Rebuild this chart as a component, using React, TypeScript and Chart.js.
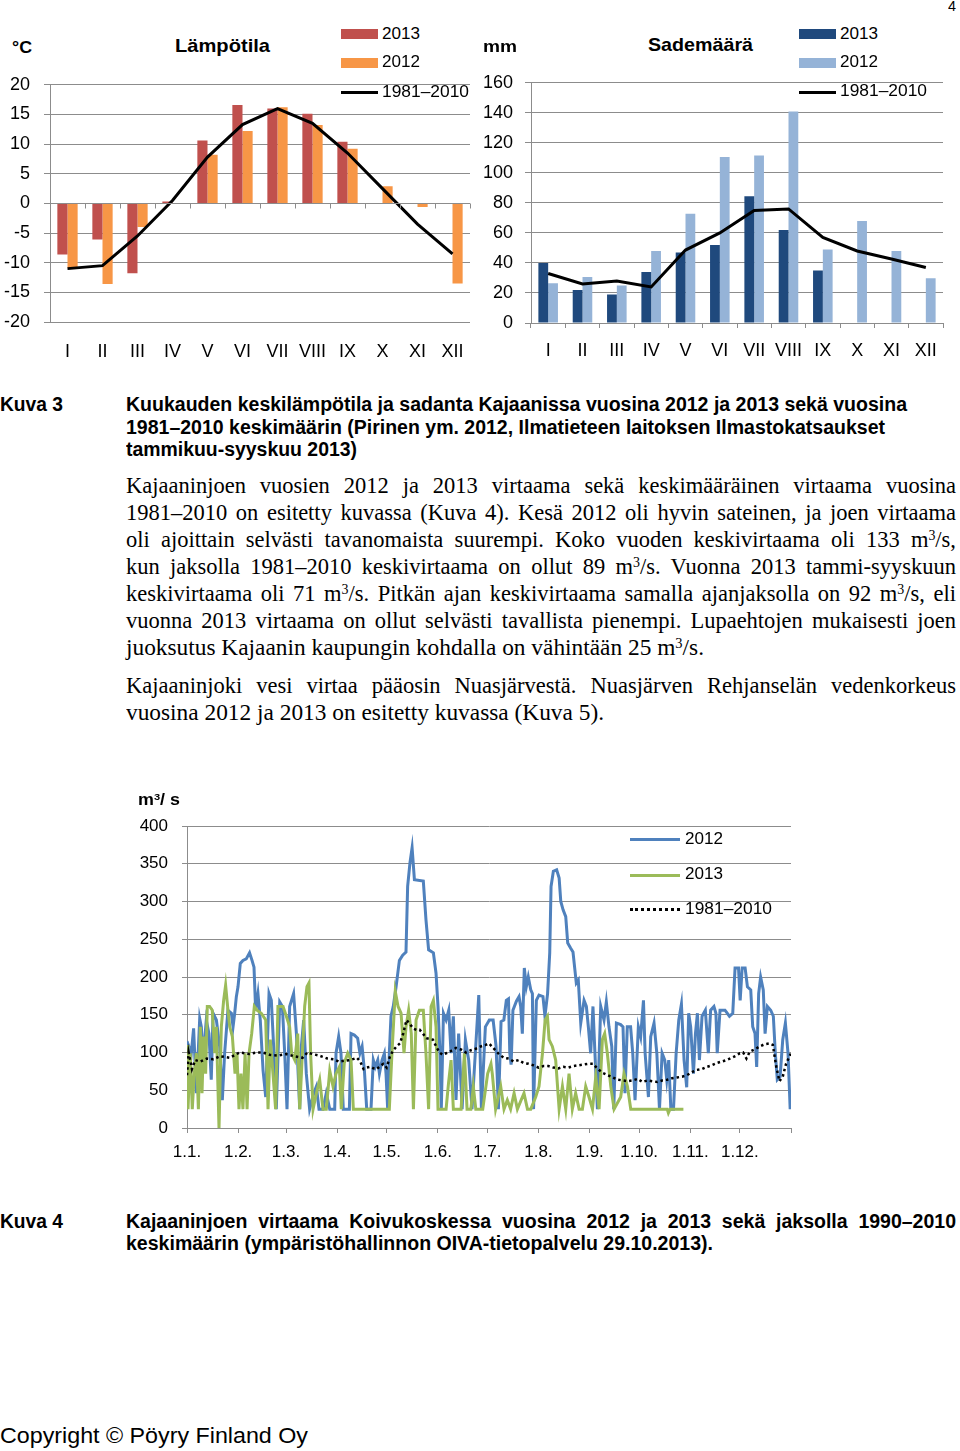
import React, { useEffect, useLayoutEffect, useRef } from 'react';
import { Chart, registerables } from 'chart.js';

Chart.register(...registerables);
Chart.defaults.font.family = "'Liberation Sans', Arial, sans-serif";
Chart.defaults.color = '#000';

// ---------- data ----------
const monthLabels = ['I', 'II', 'III', 'IV', 'V', 'VI', 'VII', 'VIII', 'IX', 'X', 'XI', 'XII'];

const temp2013 = [-8.6, -6.1, -11.8, 0.3, 10.6, 16.6, 16.0, 15.1, 10.4, null, null, null];
const temp2012 = [-10.9, -13.6, -4.0, null, 8.2, 12.2, 16.2, 13.2, 9.2, 2.9, -0.6, -13.5];
const tempNormal = [-11.0, -10.5, -5.5, 0.5, 7.8, 13.3, 16.0, 13.5, 8.5, 2.5, -3.5, -8.5];

const rain2013 = [40, 22, 19, 34, 47, 52, 84.5, 62, 35, null, null, null];
const rain2012 = [26.5, 30.7, 25, 48, 72.8, 110.6, 111.5, 140.8, 49, 68, 48, 29.8];
const rainNormal = [33, 26, 28, 24, 48.6, 60, 75, 76, 57, 48, 42.6, 37];

const flowTickDays = [0, 31, 60, 91, 121, 152, 182, 213, 244, 274, 305, 335, 366];
const flowTickLabels = ['1.1.', '1.2.', '1.3.', '1.4.', '1.5.', '1.6.', '1.7.', '1.8.', '1.9.', '1.10.', '1.11.', '1.12.', ''];

// [day of year, m3/s]
const flow2012: [number, number][] = [
  [0, 115], [2.6, 99], [4, 132], [5.7, 46], [7.7, 145], [8.7, 134], [9.7, 90], [11.7, 143], [13.3, 125], [14.7, 64],
  [15.8, 152], [17.8, 143], [19.8, 108], [21.4, 37], [22.8, 99], [24.8, 156], [26.9, 152], [27.9, 134], [28.9, 152], [29.9, 174],
  [30.9, 187], [32.3, 218], [33.9, 222], [35.9, 224], [37.9, 232], [39.4, 222], [40.6, 213], [41.6, 156], [43, 178], [44.4, 143],
  [46.1, 76], [47.7, 41], [49.7, 178], [51.1, 169], [52.5, 108], [54.1, 25], [56.2, 167], [57.8, 161], [59.2, 99], [60.6, 25],
  [62.2, 161], [64.6, 178], [66.3, 125], [68.3, 25], [69.3, 108], [70.7, 143], [72.3, 72], [74.3, 25], [76.8, 46], [78.4, 55],
  [80, 25], [82.4, 25], [84.4, 46], [86.5, 25], [89.5, 25], [90.3, 99], [91.9, 121], [93.3, 99], [94.7, 25], [98.4, 25],
  [99.4, 125], [101.4, 123], [103.4, 119], [104.8, 99], [106.1, 108], [107.5, 76], [108.9, 25], [111.5, 25], [112.9, 90], [114.1, 81],
  [115.6, 90], [116.6, 72], [118.2, 90], [119.6, 99], [120.6, 72], [121.6, 25], [122.6, 99], [123.6, 148], [125, 161], [126.7, 187],
  [128.7, 222], [130.7, 229], [132.7, 233], [133.7, 320], [135.1, 351], [136.4, 371], [137.8, 329], [143.2, 327], [144.8, 276], [146.4, 236],
  [149.3, 232], [150.9, 205], [152.1, 161], [153.3, 99], [154.1, 25], [155.4, 152], [157, 143], [158.6, 156], [160, 99], [161.4, 148],
  [163, 37], [164.6, 125], [166.7, 25], [168.7, 117], [170.7, 90], [172.7, 25], [174.7, 99], [176.8, 176], [178.4, 25], [180.8, 134],
  [183.2, 143], [185.5, 143], [187.3, 108], [188.7, 25], [190.3, 141], [192, 143], [193.5, 169], [194.8, 171], [195.6, 99], [196.4, 84],
  [197.5, 156], [199.6, 168], [201.2, 174], [202.2, 161], [203.2, 125], [204.4, 212], [205.6, 187], [206.8, 200], [208.3, 183], [209.3, 178],
  [210, 25], [211.7, 169], [213.3, 176], [215.7, 174], [216.9, 148], [218.5, 178], [219.8, 232], [220.6, 320], [222, 340], [224, 342],
  [225.5, 331], [226.5, 300], [227.9, 289], [229.5, 280], [230.7, 245], [232.5, 238], [233.9, 233], [235.9, 192], [237.1, 196], [238.6, 139],
  [240.6, 169], [242, 161], [243.2, 134], [244.6, 99], [246, 161], [247.2, 99], [248.7, 25], [250.7, 161], [252.7, 143], [254.1, 167],
  [255.7, 134], [257.4, 108], [258.6, 25], [260.2, 139], [262.8, 137], [264.2, 134], [265.4, 46], [266.8, 134], [268.8, 134], [270.1, 99],
  [271.5, 37], [273.5, 134], [274.9, 121], [276.6, 169], [277.6, 99], [279.6, 41], [281, 121], [283, 139], [284.7, 99], [286.3, 25],
  [287.9, 99], [289.5, 90], [290.7, 64], [291.9, 90], [293.2, 25], [294.8, 25], [296.4, 99], [298, 143], [299.6, 164], [301.2, 90],
  [302.8, 54], [304, 152], [305.2, 134], [306.9, 72], [308.1, 125], [309.3, 152], [310.5, 90], [312.1, 148], [314.1, 156], [315.9, 99],
  [317.3, 156], [319.3, 161], [320.5, 152], [321.3, 99], [323, 156], [326, 156], [328.7, 148], [330.7, 152], [332.1, 212], [334.2, 212],
  [335.2, 169], [336.4, 212], [338.2, 212], [339.6, 187], [341.6, 183], [342.8, 134], [344.2, 125], [345.2, 81], [346.4, 178], [347.6, 200],
  [349.2, 183], [350.3, 125], [351.7, 161], [353.7, 156], [355.3, 148], [356.5, 99], [357.7, 64], [359.4, 68], [361, 117], [362.6, 139],
  [364.2, 99], [365.5, 25], [366, 41],
];

const flow2013: [number, number][] = [
  [0, 110], [0.6, 25], [2, 99], [3.2, 25], [4.4, 72], [5.7, 99], [6.9, 25], [8.1, 134], [9.1, 46], [10.1, 121],
  [11.3, 72], [12.3, 161], [13.7, 161], [15.3, 156], [16.8, 99], [17.8, 134], [19.4, 0], [20.8, 134], [22.2, 169], [23.4, 189],
  [24.6, 161], [25.9, 134], [27.5, 121], [29.1, 72], [30.3, 99], [31.5, 25], [32.7, 72], [33.9, 25], [35.2, 99], [36.4, 25],
  [37.6, 99], [39.2, 125], [40.8, 161], [42.4, 156], [45, 152], [47.7, 143], [49.1, 25], [50.5, 117], [52.1, 72], [53.7, 25],
  [55.1, 161], [58.2, 161], [60.2, 148], [62.2, 134], [63.4, 99], [65.3, 90], [67.1, 125], [68.3, 25], [69.9, 99], [71.3, 161],
  [72.7, 187], [73.9, 192], [74.9, 99], [76.4, 25], [78.4, 46], [80.4, 64], [82.4, 25], [84.4, 25], [86.5, 76], [88.5, 55],
  [90.3, 72], [92.3, 81], [93.5, 25], [95.3, 86], [97.4, 99], [99.4, 90], [100.8, 25], [122.6, 25], [124.2, 99], [126.2, 181],
  [127.9, 161], [129.7, 152], [131.5, 99], [132.7, 134], [134.3, 156], [135.9, 125], [137.2, 25], [138.8, 143], [140.8, 156], [143.2, 156],
  [144.8, 99], [146.4, 25], [147.9, 161], [149.3, 169], [150.9, 134], [152.1, 25], [157, 25], [158.5, 60], [160, 90], [161.4, 25],
  [166.1, 25], [168.1, 99], [169.7, 25], [172, 25], [173.5, 55], [175, 25], [179.2, 25], [182.2, 72], [184.2, 85], [185, 72],
  [187, 25], [190.1, 55], [192.1, 25], [194.1, 37], [196.1, 25], [198.2, 46], [200.2, 25], [204.2, 46], [206.3, 25], [208.3, 25],
  [211.3, 41], [213.3, 55], [215.4, 99], [217, 143], [218.4, 148], [219.4, 117], [221.4, 108], [223.4, 90], [225.5, 25], [227.5, 55],
  [229.5, 25], [231.5, 72], [233.5, 25], [235.5, 46], [237.6, 25], [239.6, 25], [241.6, 55], [243.6, 41], [245.7, 25], [247.7, 68],
  [249.7, 25], [251.7, 117], [253.1, 125], [254.7, 99], [256.8, 55], [258.8, 25], [262.8, 41], [264.8, 72], [266.9, 55], [268.9, 25],
  [291, 25], [291.7, 20], [292.7, 25], [300.8, 25],
];

const flowNormal: [number, number][] = [
  [0, 70], [1, 100], [3, 78], [5, 90], [8, 88], [12, 92], [16, 91], [20, 95], [26, 93], [30, 98],
  [32, 100], [38, 98], [42, 100], [46, 100], [50, 97], [55, 96], [60, 98], [65, 95], [70, 93], [73, 100],
  [76, 98], [80, 96], [85, 92], [89, 91], [92, 88], [95, 89], [99, 90], [103, 93], [105, 88], [107, 78],
  [109, 80], [111, 81], [113, 79], [115, 78], [117, 82], [119, 85], [121, 80], [123, 95], [125, 103], [127, 108],
  [129, 112], [131, 125], [133, 143], [135, 138], [137, 132], [139, 130], [141, 130], [143, 125], [145, 119], [147, 118],
  [149, 117], [151, 108], [153, 100], [155, 97], [157, 99], [160, 102], [163, 106], [166, 104], [169, 100], [172, 103],
  [175, 105], [178, 108], [181, 110], [183, 112], [186, 105], [189, 98], [192, 93], [195, 92], [198, 88], [201, 90],
  [204, 86], [207, 85], [210, 83], [213, 80], [216, 82], [219, 82], [222, 80], [225, 79], [228, 81], [231, 80],
  [234, 82], [237, 83], [240, 84], [243, 85], [246, 85], [249, 78], [252, 73], [255, 70], [258, 67], [261, 64],
  [264, 63], [267, 62], [270, 63], [273, 65], [276, 61], [279, 63], [282, 62], [285, 61], [288, 63], [291, 64],
  [294, 66], [297, 67], [300, 68], [303, 70], [306, 74], [309, 77], [312, 78], [315, 81], [318, 83], [321, 86],
  [324, 88], [327, 90], [330, 93], [333, 96], [335, 99], [337, 100], [339, 92], [341, 101], [344, 104], [347, 108],
  [350, 111], [353, 112], [355, 110], [357, 82], [359, 62], [361, 68], [363, 85], [366, 99],
];

// ---------- styles ----------
const GRID = '#8c8c8c';
const C_T2013 = '#C0504D';
const C_T2012 = '#F79646';
const C_R2013 = '#1F497D';
const C_R2012 = '#95B3D7';
const C_F2012 = '#4F81BD';
const C_F2013 = '#9BBB59';
const SANS = "'Liberation Sans', Arial, sans-serif";
const SERIF = "'Liberation Serif', 'Times New Roman', serif";

const zeroAxisPlugin = {
  id: 'zeroAxis',
  afterDatasetsDraw(chart: any) {
    const { ctx, scales } = chart;
    const x = scales.x;
    const y = scales.y;
    const y0 = Math.round(y.getPixelForValue(0)) + 0.5;
    const n = chart.data.labels.length;
    const w = (x.right - x.left) / n;
    ctx.save();
    ctx.strokeStyle = GRID;
    ctx.lineWidth = 1;
    ctx.beginPath();
    ctx.moveTo(x.left, y0);
    ctx.lineTo(x.right, y0);
    for (let i = 0; i <= n; i++) {
      const px = Math.round(x.left + i * w) + 0.5;
      ctx.moveTo(px, y0);
      ctx.lineTo(px, y0 + 5);
    }
    ctx.stroke();
    ctx.restore();
  },
};

function ChartCanvas({ make, left, top, width, height }: any) {
  const ref = useRef<HTMLCanvasElement>(null);
  useEffect(() => {
    const chart = new Chart(ref.current as HTMLCanvasElement, make());
    return () => chart.destroy();
  }, []);
  return (
    <canvas
      ref={ref}
      width={width}
      height={height}
      style={{ position: 'absolute', left, top, width, height }}
    />
  );
}

function TLine({ left, cy, width, mode = 'fit', font, size, weight = 'normal', children, lh = 24 }: any) {
  const ref = useRef<HTMLSpanElement>(null);
  useLayoutEffect(() => {
    const el = ref.current;
    if (!el) return;
    el.style.wordSpacing = '0px';
    el.style.transform = 'none';
    const natural = el.getBoundingClientRect().width;
    const spaces = ((el.textContent || '').match(/ /g) || []).length;
    if (mode === 'justify' && natural < width && spaces > 0) {
      el.style.wordSpacing = `${(width - natural) / spaces}px`;
    } else if (natural > 0 && width) {
      el.style.transform = `scaleX(${width / natural})`;
    }
  }, [width, mode]);
  return (
    <div
      style={{
        position: 'absolute',
        left,
        top: cy - lh / 2,
        height: lh,
        lineHeight: `${lh}px`,
        whiteSpace: 'nowrap',
        fontFamily: font,
        fontSize: size,
        fontWeight: weight,
        color: '#000',
      }}
    >
      <span ref={ref} style={{ display: 'inline-block', transformOrigin: 'left center' }}>
        {children}
      </span>
    </div>
  );
}

const Sup = ({ children }: any) => (
  <span style={{ fontSize: '0.62em', position: 'relative', top: '-0.5em' }}>{children}</span>
);

function Box({ left, cy, w, h, color }: any) {
  return <div style={{ position: 'absolute', left, top: cy - h / 2, width: w, height: h, background: color }} />;
}

function DotLine({ left, cy, w }: any) {
  return (
    <div
      style={{
        position: 'absolute',
        left,
        top: cy - 1,
        width: w,
        height: 0,
        borderTop: '3px dotted #000',
      }}
    />
  );
}

function makeTemp() {
  return {
    type: 'bar',
    data: {
      labels: monthLabels,
      datasets: [
        { type: 'line', label: '1981–2010', data: tempNormal, borderColor: '#000', borderWidth: 3, pointRadius: 0, tension: 0, order: 0 },
        { label: '2013', data: temp2013, backgroundColor: C_T2013, order: 1, categoryPercentage: 0.58, barPercentage: 1 },
        { label: '2012', data: temp2012, backgroundColor: C_T2012, order: 1, categoryPercentage: 0.58, barPercentage: 1 },
      ],
    },
    options: {
      responsive: false,
      animation: false,
      devicePixelRatio: 1,
      layout: { padding: { top: 21, right: 10, left: 0, bottom: 0 } },
      plugins: { legend: { display: false }, tooltip: { enabled: false } },
      scales: {
        x: {
          grid: { display: false },
          border: { display: false },
          ticks: { font: { size: 18 }, color: '#000', padding: 11, maxRotation: 0, autoSkip: false },
          afterFit: (s: any) => { s.height = 48; },
        },
        y: {
          min: -20,
          max: 20,
          ticks: { stepSize: 5, font: { size: 18 }, color: '#000', padding: 14 },
          grid: { color: GRID, tickLength: 6, drawTicks: true },
          border: { display: true, color: GRID },
          afterFit: (s: any) => { s.width = 50; },
        },
      },
    },
    plugins: [zeroAxisPlugin],
  } as any;
}

function makeRain() {
  return {
    type: 'bar',
    data: {
      labels: monthLabels,
      datasets: [
        { type: 'line', label: '1981–2010', data: rainNormal, borderColor: '#000', borderWidth: 3, pointRadius: 0, tension: 0, order: 0 },
        { label: '2013', data: rain2013, backgroundColor: C_R2013, order: 1, categoryPercentage: 0.57, barPercentage: 1 },
        { label: '2012', data: rain2012, backgroundColor: C_R2012, order: 1, categoryPercentage: 0.57, barPercentage: 1 },
      ],
    },
    options: {
      responsive: false,
      animation: false,
      devicePixelRatio: 1,
      layout: { padding: { top: 21, right: 17, left: 0, bottom: 0 } },
      plugins: { legend: { display: false }, tooltip: { enabled: false } },
      scales: {
        x: {
          grid: { display: true, drawOnChartArea: false, color: GRID, tickLength: 5, offset: true },
          border: { display: true, color: GRID },
          ticks: { font: { size: 18 }, color: '#000', padding: 12, maxRotation: 0, autoSkip: false },
          afterFit: (s: any) => { s.height = 47; },
        },
        y: {
          min: 0,
          max: 160,
          ticks: { stepSize: 20, font: { size: 18 }, color: '#000', padding: 12 },
          grid: { color: GRID, tickLength: 6, drawTicks: true },
          border: { display: true, color: GRID },
          afterFit: (s: any) => { s.width = 51; },
        },
      },
    },
  } as any;
}

function makeFlow() {
  const pts = (arr: [number, number][]) => arr.map(([d, v]) => ({ x: d, y: v }));
  return {
    type: 'line',
    data: {
      datasets: [
        { label: '1981–2010', data: pts(flowNormal), borderColor: '#000', borderWidth: 2.5, borderDash: [2.5, 3], pointRadius: 0, tension: 0, order: 0 },
        { label: '2013', data: pts(flow2013), borderColor: C_F2013, borderWidth: 3, pointRadius: 0, tension: 0, order: 1 },
        { label: '2012', data: pts(flow2012), borderColor: C_F2012, borderWidth: 3, pointRadius: 0, tension: 0, order: 2 },
      ],
    },
    options: {
      responsive: false,
      animation: false,
      devicePixelRatio: 1,
      layout: { padding: { top: 46, right: 19, left: 0, bottom: 0 } },
      plugins: { legend: { display: false }, tooltip: { enabled: false } },
      scales: {
        x: {
          type: 'linear',
          min: 0,
          max: 366,
          afterBuildTicks: (s: any) => { s.ticks = flowTickDays.map((v) => ({ value: v })); },
          grid: { display: true, drawOnChartArea: false, color: GRID, tickLength: 5 },
          border: { display: true, color: GRID },
          ticks: {
            font: { size: 17 },
            color: '#000',
            padding: 9,
            maxRotation: 0,
            autoSkip: false,
            callback: (_v: any, i: number) => flowTickLabels[i],
          },
          afterFit: (s: any) => { s.height = 42; },
        },
        y: {
          min: 0,
          max: 400,
          ticks: { stepSize: 50, font: { size: 17 }, color: '#000', padding: 14 },
          grid: { color: GRID, tickLength: 5, drawTicks: true },
          border: { display: true, color: GRID },
          afterFit: (s: any) => { s.width = 67; },
        },
      },
    },
  } as any;
}

export default function App() {
  const body = { font: SERIF, size: 22.5 };
  const cap = { font: SANS, size: 19.5, weight: 'bold' };
  return (
    <div style={{ position: 'absolute', left: 0, top: 0, width: 960, height: 1451, background: '#fff', overflow: 'hidden' }}>
      <TLine left={948} cy={6} width={8} font={SANS} size={14} lh={16}>4</TLine>

      {/* Temperature chart */}
      <ChartCanvas make={makeTemp} left={0} top={60} width={480} height={310} />
      <TLine left={12} cy={48} width={20} font={SANS} size={17} weight="bold">°C</TLine>
      <TLine left={175} cy={46} width={95} font={SANS} size={19} weight="bold">Lämpötila</TLine>
      <Box left={341} cy={34} w={37} h={10} color={C_T2013} />
      <TLine left={382} cy={34} width={38} font={SANS} size={17}>2013</TLine>
      <Box left={341} cy={63} w={37} h={10} color={C_T2012} />
      <TLine left={382} cy={62} width={38} font={SANS} size={17}>2012</TLine>
      <Box left={341} cy={92} w={37} h={3} color="#000" />
      <TLine left={382} cy={92} width={87} font={SANS} size={17}>1981–2010</TLine>

      {/* Precipitation chart */}
      <ChartCanvas make={makeRain} left={480} top={60} width={480} height={310} />
      <TLine left={483} cy={47} width={34} font={SANS} size={17} weight="bold">mm</TLine>
      <TLine left={648} cy={45} width={105} font={SANS} size={19} weight="bold">Sademäärä</TLine>
      <Box left={799} cy={34} w={37} h={10} color={C_R2013} />
      <TLine left={840} cy={34} width={38} font={SANS} size={17}>2013</TLine>
      <Box left={799} cy={63} w={37} h={10} color={C_R2012} />
      <TLine left={840} cy={62} width={38} font={SANS} size={17}>2012</TLine>
      <Box left={799} cy={92} w={37} h={3} color="#000" />
      <TLine left={840} cy={91} width={87} font={SANS} size={17}>1981–2010</TLine>

      {/* Caption Kuva 3 */}
      <TLine left={0} cy={404} width={63} {...cap}>Kuva 3</TLine>
      <TLine left={126} cy={404} width={781} {...cap}>Kuukauden keskilämpötila ja sadanta Kajaanissa vuosina 2012 ja 2013 sekä vuosina</TLine>
      <TLine left={126} cy={427} width={759} {...cap}>1981–2010 keskimäärin (Pirinen ym. 2012, Ilmatieteen laitoksen Ilmastokatsaukset</TLine>
      <TLine left={126} cy={449} width={231} {...cap}>tammikuu-syyskuu 2013)</TLine>

      {/* Body text */}
      <TLine left={126} cy={486} width={830} mode="justify" {...body}>Kajaaninjoen vuosien 2012 ja 2013 virtaama sekä keskimääräinen virtaama vuosina</TLine>
      <TLine left={126} cy={513} width={830} mode="justify" {...body}>1981–2010 on esitetty kuvassa (Kuva 4). Kesä 2012 oli hyvin sateinen, ja joen virtaama</TLine>
      <TLine left={126} cy={540} width={830} mode="justify" {...body}>oli ajoittain selvästi tavanomaista suurempi. Koko vuoden keskivirtaama oli 133 m<Sup>3</Sup>/s,</TLine>
      <TLine left={126} cy={567} width={830} mode="justify" {...body}>kun jaksolla 1981–2010 keskivirtaama on ollut 89 m<Sup>3</Sup>/s. Vuonna 2013 tammi-syyskuun</TLine>
      <TLine left={126} cy={594} width={830} mode="justify" {...body}>keskivirtaama oli 71 m<Sup>3</Sup>/s. Pitkän ajan keskivirtaama samalla ajanjaksolla on 92 m<Sup>3</Sup>/s, eli</TLine>
      <TLine left={126} cy={621} width={830} mode="justify" {...body}>vuonna 2013 virtaama on ollut selvästi tavallista pienempi. Lupaehtojen mukaisesti joen</TLine>
      <TLine left={126} cy={648} width={578} {...body}>juoksutus Kajaanin kaupungin kohdalla on vähintään 25 m<Sup>3</Sup>/s.</TLine>
      <TLine left={126} cy={686} width={830} mode="justify" {...body}>Kajaaninjoki vesi virtaa pääosin Nuasjärvestä. Nuasjärven Rehjanselän vedenkorkeus</TLine>
      <TLine left={126} cy={713} width={478} {...body}>vuosina 2012 ja 2013 on esitetty kuvassa (Kuva 5).</TLine>

      {/* Flow chart */}
      <ChartCanvas make={makeFlow} left={120} top={780} width={690} height={390} />
      <TLine left={138} cy={800} width={42} font={SANS} size={16} weight="bold">m<Sup>3</Sup>/ s</TLine>
      <Box left={630} cy={839} w={50} h={3} color={C_F2012} />
      <TLine left={685} cy={839} width={38} font={SANS} size={17}>2012</TLine>
      <Box left={630} cy={875} w={50} h={3} color={C_F2013} />
      <TLine left={685} cy={874} width={38} font={SANS} size={17}>2013</TLine>
      <DotLine left={630} cy={909} w={50} />
      <TLine left={685} cy={909} width={87} font={SANS} size={17}>1981–2010</TLine>

      {/* Caption Kuva 4 */}
      <TLine left={0} cy={1221} width={63} {...cap}>Kuva 4</TLine>
      <TLine left={126} cy={1221} width={830} mode="justify" {...cap}>Kajaaninjoen virtaama Koivukoskessa vuosina 2012 ja 2013 sekä jaksolla 1990–2010</TLine>
      <TLine left={126} cy={1243} width={587} {...cap}>keskimäärin (ympäristöhallinnon OIVA-tietopalvelu 29.10.2013).</TLine>

      <TLine left={0} cy={1436} width={308} font={SANS} size={22} lh={26}>Copyright © Pöyry Finland Oy</TLine>
    </div>
  );
}
